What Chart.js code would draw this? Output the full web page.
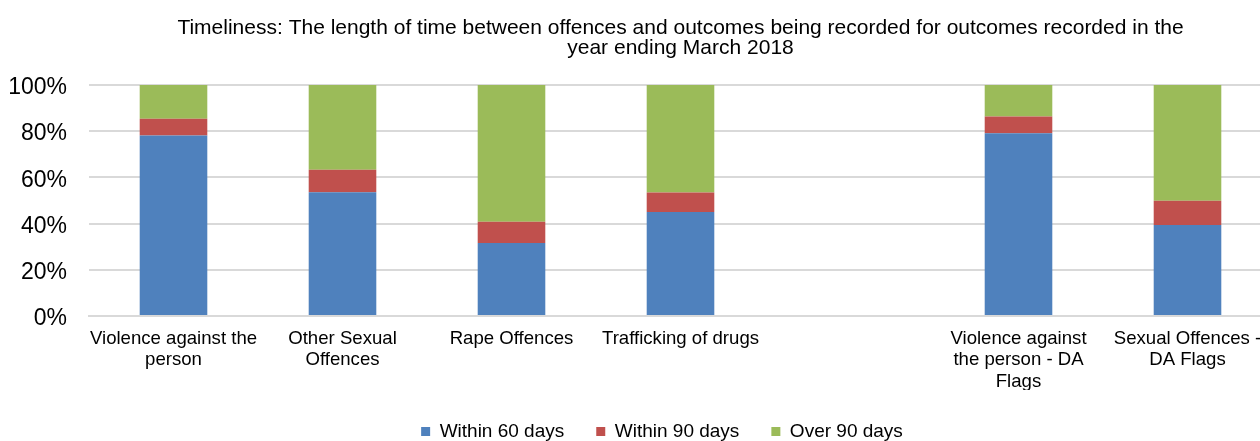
<!DOCTYPE html>
<html lang="en">
<head>
  <meta charset="UTF-8">
  <title>Timeliness of outcomes</title>
  <script src="https://cdn.jsdelivr.net/npm/chart.js"></script>
  <style>
    html, body {
      margin: 0;
      padding: 0;
      background: #ffffff;
      overflow: hidden;
    }
    #wrap {
      position: relative;
      width: 1324px;
      height: 441px;
    }
  </style>
</head>
<body>
  <div id="wrap">
    <canvas id="chart"></canvas>
  </div>

  <script>
    const categories = [
      ['Violence against the', 'person'],
      ['Other Sexual', 'Offences'],
      'Rape Offences',
      'Trafficking of drugs',
      '',
      ['Violence against', 'the person - DA', 'Flags'],
      ['Sexual Offences -', 'DA Flags']
    ];
    const within60 = [78.1, 53.5, 31.6, 45.0, null, 79.1, 39.4];
    const within90 = [7.2, 9.8, 9.2, 8.4, null, 7.2, 10.5];
    const over90 = [14.7, 36.7, 59.2, 46.6, null, 13.7, 50.1];
    const yTicks = [0, 20, 40, 60, 80, 100];

    const font = "'Liberation Sans', Arial, sans-serif";

    const ctx = document.getElementById('chart').getContext('2d');
    new Chart(ctx, {
      type: 'bar',
      data: {
        labels: categories,
        datasets: [
          { label: 'Within 60 days', data: within60, backgroundColor: '#4f81bd' },
          { label: 'Within 90 days', data: within90, backgroundColor: '#c0504d' },
          { label: 'Over 90 days', data: over90, backgroundColor: '#9bbb59' }
        ]
      },
      options: {
        responsive: true,
        maintainAspectRatio: false,
        animation: false,
        barPercentage: 0.4,
        categoryPercentage: 1,
        layout: { padding: 0 },
        plugins: {
          title: {
            display: true,
            fullSize: false, // centred over the plot area like Excel does
            text: [
              'Timeliness: The length of time between offences and outcomes being recorded for outcomes recorded in the',
              'year ending March 2018'
            ],
            color: '#000',
            font: { family: font, size: 21, weight: 'normal', lineHeight: 0.95 },
            padding: { top: 18, bottom: 27 }
          },
          legend: {
            position: 'bottom',
            maxHeight: 51,
            labels: {
              color: '#000',
              font: { family: font, size: 19 },
              boxWidth: 9,
              boxHeight: 9,
              padding: 32
            }
          },
          tooltip: { enabled: false }
        },
        scales: {
          x: {
            stacked: true,
            grid: { display: false, drawTicks: false },
            border: { display: true, color: '#d9d9d9', width: 2 },
            ticks: {
              color: '#000',
              font: { family: font, size: 18.6, lineHeight: 1.16 },
              padding: 12,
              maxRotation: 0,
              autoSkip: false
            },
            afterFit: (scale) => { scale.height = 74; }
          },
          y: {
            stacked: true,
            min: 0,
            max: 100,
            border: { display: false },
            grid: { color: '#d9d9d9', lineWidth: 2, drawTicks: false },
            afterBuildTicks: (scale) => {
              scale.ticks = yTicks.map(v => ({ value: v }));
            },
            ticks: {
              color: '#000',
              font: { family: font, size: 23 },
              padding: 22,
              labelOffset: 3,
              callback: (v) => v + '%'
            },
            afterFit: (scale) => { scale.width = 89; }
          },
          // empty right-hand axis: keeps the plot running off the right edge
          yRight: {
            position: 'right',
            min: 0,
            max: 100,
            grid: { display: false },
            border: { display: false },
            ticks: { display: false },
            afterFit: (scale) => { scale.width = 52; }
          }
        }
      }
    });
  </script>
</body>
</html>
